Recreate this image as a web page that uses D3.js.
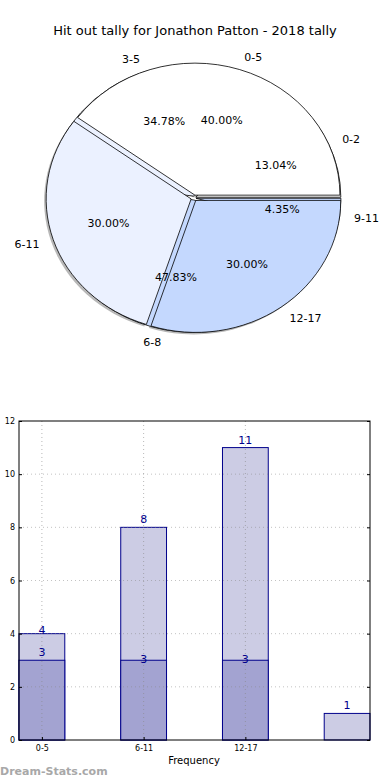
<!DOCTYPE html>
<html lang="en">
  <head>
    <meta charset="utf-8">
    <title>Hit out tally</title>
    <script src="https://d3js.org/d3.v7.js"></script>
    <style>
      body { margin: 0; background: #fff; }
      * { font-family: "DejaVu Sans", sans-serif; }
    </style>
  </head>
  <body>
    <script type="text/javascript">
      // pie data: two overlaid pies
      var outerLabels = ["0-5", "6-11", "12-17"];
      var outerValues = [4, 3, 3];
      var innerLabels = ["0-2", "3-5", "6-8", "9-11"];
      var innerValues = [3, 8, 11, 1];
      var pieColors = ["#ffffff", "#ebf1ff", "#c4d8fe", "#c4d8fe"];

      // bar data
      var barLabels = ["0-5", "6-11", "12-17", ""];
      var lightValues = [4, 8, 11, 1];
      var darkValues = [3, 3, 3, 0];
      var yTicks = [0, 2, 4, 6, 8, 10, 12];

      var w = 390, h = 780;
      var svg = d3.select("body").append("svg")
          .attr("width", w)
          .attr("height", h);

      svg.append("text")
          .attr("x", 195).attr("y", 35)
          .attr("text-anchor", "middle")
          .style("font-size", "13px")
          .text("Hit out tally for Jonathon Patton - 2018 tally");

      // ---- pie ----
      var cx = 194, cy = 198, rx = 145, ry = 132;

      var pie = d3.pie().sort(null)
          .startAngle(Math.PI / 2)
          .endAngle(Math.PI / 2 - 2 * Math.PI);
      var arc = d3.arc().innerRadius(0).outerRadius(1);

      function mid(d) { return (d.startAngle + d.endAngle) / 2; }

      var innerArcs = pie(innerValues);
      var outerArcs = pie(outerValues);

      function drawShadow(arcs, explode) {
        svg.append("g").selectAll("path").data(arcs).enter().append("path")
            .attr("transform", d => `translate(${cx - 2 + Math.sin(mid(d)) * explode}, ${cy + 2 - Math.cos(mid(d)) * explode}) scale(${rx}, ${ry})`)
            .attr("d", arc)
            .attr("fill", "#888")
            .attr("opacity", 0.6);
      }

      function drawSlices(arcs, explode) {
        svg.append("g").selectAll("path").data(arcs).enter().append("path")
            .attr("transform", d => `translate(${cx + Math.sin(mid(d)) * explode}, ${cy - Math.cos(mid(d)) * explode}) scale(${rx}, ${ry})`)
            .attr("d", arc)
            .attr("fill", (d, i) => pieColors[i])
            .attr("stroke", "#000")
            .attr("stroke-width", 0.8)
            .attr("vector-effect", "non-scaling-stroke");
      }

      function drawLabels(labels, arcs, explode) {
        var g = svg.append("g").style("font-size", "11px");
        var total = d3.sum(arcs, e => e.value);
        arcs.forEach(function (d, i) {
          var a = mid(d);
          var sx = Math.sin(a), sy = -Math.cos(a);
          g.append("text")
              .attr("x", cx + sx * (rx * 1.1 + explode))
              .attr("y", cy + sy * (ry * 1.1 + explode))
              .attr("dy", "0.35em")
              .attr("text-anchor", sx > 0 ? "start" : "end")
              .text(labels[i]);
          g.append("text")
              .attr("x", cx + sx * (rx * 0.6 + explode))
              .attr("y", cy + sy * (ry * 0.6 + explode))
              .attr("dy", "0.35em")
              .attr("text-anchor", "middle")
              .text((d.value / total * 100).toFixed(2) + "%");
        });
      }

      drawShadow(outerArcs, 3);
      drawSlices(innerArcs, 2);
      drawSlices(outerArcs, 3);
      drawLabels(innerLabels, innerArcs, 2);
      drawLabels(outerLabels, outerArcs, 3);

      // ---- bars ----
      var bw = 0.45;
      var xScale = d3.scaleLinear()
          .domain([-bw / 2, barLabels.length - 1 + bw / 2])
          .range([19, 370]);
      var yScale = d3.scaleLinear().domain([0, 12]).range([740, 421]);

      var chart = svg.append("g");
      var tickIdx = [0, 1, 2];

      // light bars
      chart.selectAll("rect.light").data(lightValues).enter().append("rect")
          .attr("x", (d, i) => xScale(i - bw / 2))
          .attr("width", xScale(bw) - xScale(0))
          .attr("y", d => yScale(d))
          .attr("height", d => yScale(0) - yScale(d))
          .attr("fill", "#cccce4")
          .attr("stroke", "#00008b").attr("stroke-width", 1);

      chart.selectAll("rect.dark").data(darkValues.filter(d => d > 0)).enter().append("rect")
          .attr("x", (d, i) => xScale(i - bw / 2))
          .attr("width", xScale(bw) - xScale(0))
          .attr("y", d => yScale(d))
          .attr("height", d => yScale(0) - yScale(d))
          .attr("fill", "#a3a3d1")
          .attr("stroke", "#00008b").attr("stroke-width", 1);

      // grid on top of bars
      chart.selectAll("line.vgrid").data(tickIdx).enter().append("line")
          .attr("x1", d => xScale(d)).attr("x2", d => xScale(d))
          .attr("y1", 421).attr("y2", 740)
          .attr("stroke", "#888").attr("stroke-width", 1)
          .attr("stroke-opacity", 0.6)
          .attr("stroke-dasharray", "1,3");
      chart.selectAll("line.hgrid").data(yTicks.slice(1, -1)).enter().append("line")
          .attr("x1", 19).attr("x2", 370)
          .attr("y1", d => yScale(d)).attr("y2", d => yScale(d))
          .attr("stroke", "#888").attr("stroke-width", 1)
          .attr("stroke-opacity", 0.5)
          .attr("stroke-dasharray", "1,3");

      // value labels
      chart.selectAll("text.lv").data(lightValues).enter().append("text")
          .attr("x", (d, i) => xScale(i))
          .attr("y", (d, i) => yScale(d) - (darkValues[i] > 0 && d - darkValues[i] < 2 ? 0 : 4))
          .attr("text-anchor", "middle")
          .attr("fill", "#00008b")
          .style("font-size", "11px")
          .text(d => d);
      chart.selectAll("text.dv").data(darkValues.filter(d => d > 0)).enter().append("text")
          .attr("x", (d, i) => xScale(i))
          .attr("y", (d, i) => yScale(d) + (lightValues[i] - d < 2 ? -4 : 3))
          .attr("text-anchor", "middle")
          .attr("fill", "#00008b")
          .style("font-size", "11px")
          .text(d => d);

      // frame
      chart.append("rect")
          .attr("x", 19).attr("y", 421)
          .attr("width", 351).attr("height", 319)
          .attr("fill", "none")
          .attr("stroke", "#000").attr("stroke-width", 1);

      // y axis
      var yAxis = d3.axisLeft(yScale).tickValues(yTicks).tickSize(-3).tickPadding(4);
      chart.append("g")
          .attr("transform", "translate(19,0)")
          .call(yAxis)
          .call(g => g.select(".domain").remove())
          .call(g => g.selectAll("text").style("font-size", "8px").attr("font-family", "DejaVu Sans"));
      chart.append("g")
          .attr("transform", "translate(370,0)")
          .call(d3.axisRight(yScale).tickValues(yTicks).tickSize(-3).tickFormat(""))
          .call(g => g.select(".domain").remove());

      // x axis
      var xAxis = d3.axisBottom(xScale).tickValues(tickIdx)
          .tickFormat(i => barLabels[i]).tickSize(-3).tickPadding(5);
      chart.append("g")
          .attr("transform", "translate(0,740)")
          .call(xAxis)
          .call(g => g.select(".domain").remove())
          .call(g => g.selectAll("text").style("font-size", "8px").attr("font-family", "DejaVu Sans"));

      svg.append("text")
          .attr("x", 194).attr("y", 764)
          .attr("text-anchor", "middle")
          .style("font-size", "10px")
          .text("Frequency");

      svg.append("text")
          .attr("x", 0).attr("y", 775)
          .style("font-size", "11px")
          .style("font-weight", "bold")
          .attr("fill", "#a8a8a8")
          .text("Dream-Stats.com");
    </script>
  </body>
</html>
